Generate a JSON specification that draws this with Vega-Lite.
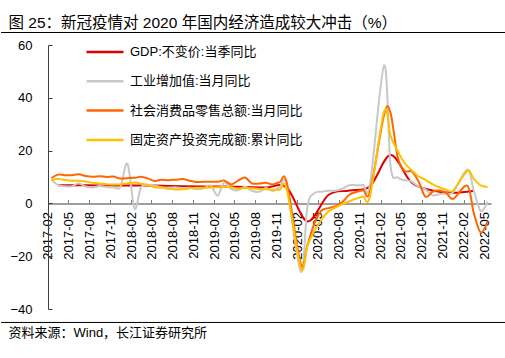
{
"$schema":"https://vega.github.io/schema/vega-lite/v6.json",
"padding":{"left":0,"top":15,"right":0,"bottom":0},
"title":{"text":"图 25：新冠疫情对 2020 年国内经济造成较大冲击（%）","anchor":"start","dx":8,"fontSize":15.5,"fontWeight":"normal","font":"Liberation Sans, Noto Sans CJK SC","color":"#000","offset":1},
"spacing":0,
"bounds":"flush",
"config":{"view":{"stroke":null}},
"vconcat":[
{"width":505,"height":289,
"title":{"text":"资料来源：Wind，长江证券研究所","orient":"bottom","anchor":"start","dx":8,"fontSize":13,"fontWeight":"normal","font":"Liberation Sans, Noto Sans CJK SC","color":"#000","offset":4},
"layer":[
{"data":{"format":{"parse":{"d":"utc:'%Y-%m'"}},"values":[
{"s":"GDP:不变价:当季同比","d":"2017-03","v":6.9},{"s":"GDP:不变价:当季同比","d":"2017-06","v":6.9},{"s":"GDP:不变价:当季同比","d":"2017-09","v":6.8},{"s":"GDP:不变价:当季同比","d":"2017-12","v":6.8},
{"s":"GDP:不变价:当季同比","d":"2018-03","v":6.8},{"s":"GDP:不变价:当季同比","d":"2018-06","v":6.7},{"s":"GDP:不变价:当季同比","d":"2018-09","v":6.5},{"s":"GDP:不变价:当季同比","d":"2018-12","v":6.4},
{"s":"GDP:不变价:当季同比","d":"2019-03","v":6.4},{"s":"GDP:不变价:当季同比","d":"2019-06","v":6.2},{"s":"GDP:不变价:当季同比","d":"2019-09","v":6.0},{"s":"GDP:不变价:当季同比","d":"2019-12","v":6.0},
{"s":"GDP:不变价:当季同比","d":"2020-03","v":-6.8},{"s":"GDP:不变价:当季同比","d":"2020-06","v":3.2},{"s":"GDP:不变价:当季同比","d":"2020-09","v":4.9},{"s":"GDP:不变价:当季同比","d":"2020-12","v":6.5},
{"s":"GDP:不变价:当季同比","d":"2021-03","v":18.3},{"s":"GDP:不变价:当季同比","d":"2021-06","v":7.9},{"s":"GDP:不变价:当季同比","d":"2021-09","v":4.9},{"s":"GDP:不变价:当季同比","d":"2021-12","v":4.0},
{"s":"GDP:不变价:当季同比","d":"2022-03","v":4.8},
{"s":"工业增加值:当月同比","d":"2017-02","v":9.0},{"s":"工业增加值:当月同比","d":"2017-03","v":7.0},{"s":"工业增加值:当月同比","d":"2017-04","v":6.5},{"s":"工业增加值:当月同比","d":"2017-05","v":6.5},{"s":"工业增加值:当月同比","d":"2017-06","v":7.6},{"s":"工业增加值:当月同比","d":"2017-07","v":6.4},{"s":"工业增加值:当月同比","d":"2017-08","v":6.0},{"s":"工业增加值:当月同比","d":"2017-09","v":6.6},{"s":"工业增加值:当月同比","d":"2017-10","v":6.2},{"s":"工业增加值:当月同比","d":"2017-11","v":6.1},{"s":"工业增加值:当月同比","d":"2017-12","v":6.2},
{"s":"工业增加值:当月同比","d":"2018-01","v":15.0},{"s":"工业增加值:当月同比","d":"2018-02","v":-2.0},{"s":"工业增加值:当月同比","d":"2018-03","v":6.0},{"s":"工业增加值:当月同比","d":"2018-04","v":7.0},{"s":"工业增加值:当月同比","d":"2018-05","v":6.8},{"s":"工业增加值:当月同比","d":"2018-06","v":6.0},{"s":"工业增加值:当月同比","d":"2018-07","v":6.0},{"s":"工业增加值:当月同比","d":"2018-08","v":6.1},{"s":"工业增加值:当月同比","d":"2018-09","v":5.8},{"s":"工业增加值:当月同比","d":"2018-10","v":5.9},{"s":"工业增加值:当月同比","d":"2018-11","v":5.4},{"s":"工业增加值:当月同比","d":"2018-12","v":5.7},
{"s":"工业增加值:当月同比","d":"2019-01","v":6.8},{"s":"工业增加值:当月同比","d":"2019-02","v":3.0},{"s":"工业增加值:当月同比","d":"2019-03","v":8.0},{"s":"工业增加值:当月同比","d":"2019-04","v":5.4},{"s":"工业增加值:当月同比","d":"2019-05","v":5.0},{"s":"工业增加值:当月同比","d":"2019-06","v":6.3},{"s":"工业增加值:当月同比","d":"2019-07","v":4.8},{"s":"工业增加值:当月同比","d":"2019-08","v":4.4},{"s":"工业增加值:当月同比","d":"2019-09","v":5.8},{"s":"工业增加值:当月同比","d":"2019-10","v":4.7},{"s":"工业增加值:当月同比","d":"2019-11","v":6.2},{"s":"工业增加值:当月同比","d":"2019-12","v":6.9},
{"s":"工业增加值:当月同比","d":"2020-02","v":-25.9},{"s":"工业增加值:当月同比","d":"2020-03","v":-1.1},{"s":"工业增加值:当月同比","d":"2020-04","v":3.9},{"s":"工业增加值:当月同比","d":"2020-05","v":4.4},{"s":"工业增加值:当月同比","d":"2020-06","v":4.8},{"s":"工业增加值:当月同比","d":"2020-07","v":4.8},{"s":"工业增加值:当月同比","d":"2020-08","v":5.6},{"s":"工业增加值:当月同比","d":"2020-09","v":6.9},{"s":"工业增加值:当月同比","d":"2020-10","v":6.9},{"s":"工业增加值:当月同比","d":"2020-11","v":7.0},{"s":"工业增加值:当月同比","d":"2020-12","v":7.3},
{"s":"工业增加值:当月同比","d":"2021-02","v":52.3},{"s":"工业增加值:当月同比","d":"2021-03","v":14.1},{"s":"工业增加值:当月同比","d":"2021-04","v":9.8},{"s":"工业增加值:当月同比","d":"2021-05","v":8.8},{"s":"工业增加值:当月同比","d":"2021-06","v":8.3},{"s":"工业增加值:当月同比","d":"2021-07","v":6.4},{"s":"工业增加值:当月同比","d":"2021-08","v":5.3},{"s":"工业增加值:当月同比","d":"2021-09","v":3.1},{"s":"工业增加值:当月同比","d":"2021-10","v":3.5},{"s":"工业增加值:当月同比","d":"2021-11","v":3.8},{"s":"工业增加值:当月同比","d":"2021-12","v":4.3},
{"s":"工业增加值:当月同比","d":"2022-02","v":12.8},{"s":"工业增加值:当月同比","d":"2022-03","v":5.0},{"s":"工业增加值:当月同比","d":"2022-04","v":-2.9},{"s":"工业增加值:当月同比","d":"2022-05","v":0.7},
{"s":"社会消费品零售总额:当月同比","d":"2017-02","v":9.5},{"s":"社会消费品零售总额:当月同比","d":"2017-03","v":10.9},{"s":"社会消费品零售总额:当月同比","d":"2017-04","v":10.7},{"s":"社会消费品零售总额:当月同比","d":"2017-05","v":10.7},{"s":"社会消费品零售总额:当月同比","d":"2017-06","v":11.0},{"s":"社会消费品零售总额:当月同比","d":"2017-07","v":10.4},{"s":"社会消费品零售总额:当月同比","d":"2017-08","v":10.1},{"s":"社会消费品零售总额:当月同比","d":"2017-09","v":10.3},{"s":"社会消费品零售总额:当月同比","d":"2017-10","v":10.0},{"s":"社会消费品零售总额:当月同比","d":"2017-11","v":10.2},{"s":"社会消费品零售总额:当月同比","d":"2017-12","v":9.4},
{"s":"社会消费品零售总额:当月同比","d":"2018-02","v":9.7},{"s":"社会消费品零售总额:当月同比","d":"2018-03","v":10.1},{"s":"社会消费品零售总额:当月同比","d":"2018-04","v":9.4},{"s":"社会消费品零售总额:当月同比","d":"2018-05","v":8.5},{"s":"社会消费品零售总额:当月同比","d":"2018-06","v":9.0},{"s":"社会消费品零售总额:当月同比","d":"2018-07","v":8.8},{"s":"社会消费品零售总额:当月同比","d":"2018-08","v":9.0},{"s":"社会消费品零售总额:当月同比","d":"2018-09","v":9.2},{"s":"社会消费品零售总额:当月同比","d":"2018-10","v":8.6},{"s":"社会消费品零售总额:当月同比","d":"2018-11","v":8.1},{"s":"社会消费品零售总额:当月同比","d":"2018-12","v":8.2},
{"s":"社会消费品零售总额:当月同比","d":"2019-02","v":8.2},{"s":"社会消费品零售总额:当月同比","d":"2019-03","v":8.7},{"s":"社会消费品零售总额:当月同比","d":"2019-04","v":7.2},{"s":"社会消费品零售总额:当月同比","d":"2019-05","v":8.6},{"s":"社会消费品零售总额:当月同比","d":"2019-06","v":9.8},{"s":"社会消费品零售总额:当月同比","d":"2019-07","v":7.6},{"s":"社会消费品零售总额:当月同比","d":"2019-08","v":7.5},{"s":"社会消费品零售总额:当月同比","d":"2019-09","v":7.8},{"s":"社会消费品零售总额:当月同比","d":"2019-10","v":7.2},{"s":"社会消费品零售总额:当月同比","d":"2019-11","v":8.0},{"s":"社会消费品零售总额:当月同比","d":"2019-12","v":8.0},
{"s":"社会消费品零售总额:当月同比","d":"2020-02","v":-23.0},{"s":"社会消费品零售总额:当月同比","d":"2020-03","v":-15.8},{"s":"社会消费品零售总额:当月同比","d":"2020-04","v":-7.5},{"s":"社会消费品零售总额:当月同比","d":"2020-05","v":-2.8},{"s":"社会消费品零售总额:当月同比","d":"2020-06","v":-1.8},{"s":"社会消费品零售总额:当月同比","d":"2020-07","v":-1.1},{"s":"社会消费品零售总额:当月同比","d":"2020-08","v":0.5},{"s":"社会消费品零售总额:当月同比","d":"2020-09","v":3.3},{"s":"社会消费品零售总额:当月同比","d":"2020-10","v":4.3},{"s":"社会消费品零售总额:当月同比","d":"2020-11","v":5.0},{"s":"社会消费品零售总额:当月同比","d":"2020-12","v":4.6},
{"s":"社会消费品零售总额:当月同比","d":"2021-02","v":33.8},{"s":"社会消费品零售总额:当月同比","d":"2021-03","v":34.2},{"s":"社会消费品零售总额:当月同比","d":"2021-04","v":17.7},{"s":"社会消费品零售总额:当月同比","d":"2021-05","v":12.4},{"s":"社会消费品零售总额:当月同比","d":"2021-06","v":12.1},{"s":"社会消费品零售总额:当月同比","d":"2021-07","v":8.5},{"s":"社会消费品零售总额:当月同比","d":"2021-08","v":2.5},{"s":"社会消费品零售总额:当月同比","d":"2021-09","v":4.4},{"s":"社会消费品零售总额:当月同比","d":"2021-10","v":4.9},{"s":"社会消费品零售总额:当月同比","d":"2021-11","v":3.9},{"s":"社会消费品零售总额:当月同比","d":"2021-12","v":1.7},
{"s":"社会消费品零售总额:当月同比","d":"2022-02","v":6.7},{"s":"社会消费品零售总额:当月同比","d":"2022-03","v":-3.5},{"s":"社会消费品零售总额:当月同比","d":"2022-04","v":-11.1},{"s":"社会消费品零售总额:当月同比","d":"2022-05","v":-6.7},
{"s":"固定资产投资完成额:累计同比","d":"2017-02","v":8.9},{"s":"固定资产投资完成额:累计同比","d":"2017-03","v":9.2},{"s":"固定资产投资完成额:累计同比","d":"2017-04","v":8.9},{"s":"固定资产投资完成额:累计同比","d":"2017-05","v":8.6},{"s":"固定资产投资完成额:累计同比","d":"2017-06","v":8.6},{"s":"固定资产投资完成额:累计同比","d":"2017-07","v":8.3},{"s":"固定资产投资完成额:累计同比","d":"2017-08","v":7.8},{"s":"固定资产投资完成额:累计同比","d":"2017-09","v":7.5},{"s":"固定资产投资完成额:累计同比","d":"2017-10","v":7.3},{"s":"固定资产投资完成额:累计同比","d":"2017-11","v":7.2},{"s":"固定资产投资完成额:累计同比","d":"2017-12","v":7.2},
{"s":"固定资产投资完成额:累计同比","d":"2018-02","v":7.9},{"s":"固定资产投资完成额:累计同比","d":"2018-03","v":7.5},{"s":"固定资产投资完成额:累计同比","d":"2018-04","v":7.0},{"s":"固定资产投资完成额:累计同比","d":"2018-05","v":6.1},{"s":"固定资产投资完成额:累计同比","d":"2018-06","v":6.0},{"s":"固定资产投资完成额:累计同比","d":"2018-07","v":5.5},{"s":"固定资产投资完成额:累计同比","d":"2018-08","v":5.3},{"s":"固定资产投资完成额:累计同比","d":"2018-09","v":5.4},{"s":"固定资产投资完成额:累计同比","d":"2018-10","v":5.7},{"s":"固定资产投资完成额:累计同比","d":"2018-11","v":5.9},{"s":"固定资产投资完成额:累计同比","d":"2018-12","v":5.9},
{"s":"固定资产投资完成额:累计同比","d":"2019-02","v":6.1},{"s":"固定资产投资完成额:累计同比","d":"2019-03","v":6.3},{"s":"固定资产投资完成额:累计同比","d":"2019-04","v":6.1},{"s":"固定资产投资完成额:累计同比","d":"2019-05","v":5.6},{"s":"固定资产投资完成额:累计同比","d":"2019-06","v":5.8},{"s":"固定资产投资完成额:累计同比","d":"2019-07","v":5.7},{"s":"固定资产投资完成额:累计同比","d":"2019-08","v":5.5},{"s":"固定资产投资完成额:累计同比","d":"2019-09","v":5.4},{"s":"固定资产投资完成额:累计同比","d":"2019-10","v":5.2},{"s":"固定资产投资完成额:累计同比","d":"2019-11","v":5.2},{"s":"固定资产投资完成额:累计同比","d":"2019-12","v":5.4},
{"s":"固定资产投资完成额:累计同比","d":"2020-02","v":-24.5},{"s":"固定资产投资完成额:累计同比","d":"2020-03","v":-16.1},{"s":"固定资产投资完成额:累计同比","d":"2020-04","v":-10.3},{"s":"固定资产投资完成额:累计同比","d":"2020-05","v":-6.3},{"s":"固定资产投资完成额:累计同比","d":"2020-06","v":-3.1},{"s":"固定资产投资完成额:累计同比","d":"2020-07","v":-1.6},{"s":"固定资产投资完成额:累计同比","d":"2020-08","v":-0.3},{"s":"固定资产投资完成额:累计同比","d":"2020-09","v":0.8},{"s":"固定资产投资完成额:累计同比","d":"2020-10","v":1.8},{"s":"固定资产投资完成额:累计同比","d":"2020-11","v":2.6},{"s":"固定资产投资完成额:累计同比","d":"2020-12","v":2.9},
{"s":"固定资产投资完成额:累计同比","d":"2021-02","v":35.0},{"s":"固定资产投资完成额:累计同比","d":"2021-03","v":25.6},{"s":"固定资产投资完成额:累计同比","d":"2021-04","v":19.9},{"s":"固定资产投资完成额:累计同比","d":"2021-05","v":15.4},{"s":"固定资产投资完成额:累计同比","d":"2021-06","v":12.6},{"s":"固定资产投资完成额:累计同比","d":"2021-07","v":10.3},{"s":"固定资产投资完成额:累计同比","d":"2021-08","v":8.9},{"s":"固定资产投资完成额:累计同比","d":"2021-09","v":7.3},{"s":"固定资产投资完成额:累计同比","d":"2021-10","v":6.1},{"s":"固定资产投资完成额:累计同比","d":"2021-11","v":5.2},{"s":"固定资产投资完成额:累计同比","d":"2021-12","v":4.9},
{"s":"固定资产投资完成额:累计同比","d":"2022-02","v":12.2},{"s":"固定资产投资完成额:累计同比","d":"2022-03","v":9.3},{"s":"固定资产投资完成额:累计同比","d":"2022-04","v":6.8},{"s":"固定资产投资完成额:累计同比","d":"2022-05","v":6.2}
]},
"mark":{"type":"line","interpolate":"cardinal","strokeWidth":2},
"encoding":{
"x":{"field":"d","type":"temporal",
"scale":{"type":"utc","domain":[{"year":2017,"month":1,"date":17,"utc":true},{"year":2022,"month":5,"date":16,"utc":true}],"range":[47,490]},
"axis":{"orient":"bottom","offset":-118.5,"title":null,"grid":false,"labelExpr":"utcFormat(datum.value, '%Y-%m')",
"values":[{"year":2017,"month":2,"date":1,"utc":true},{"year":2017,"month":5,"date":1,"utc":true},{"year":2017,"month":8,"date":1,"utc":true},{"year":2017,"month":11,"date":1,"utc":true},
{"year":2018,"month":2,"date":1,"utc":true},{"year":2018,"month":5,"date":1,"utc":true},{"year":2018,"month":8,"date":1,"utc":true},{"year":2018,"month":11,"date":1,"utc":true},
{"year":2019,"month":2,"date":1,"utc":true},{"year":2019,"month":5,"date":1,"utc":true},{"year":2019,"month":8,"date":1,"utc":true},{"year":2019,"month":11,"date":1,"utc":true},
{"year":2020,"month":2,"date":1,"utc":true},{"year":2020,"month":5,"date":1,"utc":true},{"year":2020,"month":8,"date":1,"utc":true},{"year":2020,"month":11,"date":1,"utc":true},
{"year":2021,"month":2,"date":1,"utc":true},{"year":2021,"month":5,"date":1,"utc":true},{"year":2021,"month":8,"date":1,"utc":true},{"year":2021,"month":11,"date":1,"utc":true},
{"year":2022,"month":2,"date":1,"utc":true},{"year":2022,"month":5,"date":1,"utc":true}],
"domainColor":"#808080","domainWidth":1.5,"tickColor":"#808080","tickSize":-4,"tickOffset":-3.5,
"labelAngle":-90,"labelFont":"Liberation Sans","labelFontSize":13,"labelColor":"#000","labelPadding":12,"labelOverlap":false,"labelFlush":false}},
"y":{"field":"v","type":"quantitative","scale":{"domain":[-40,60],"range":[276,12],"nice":false,"zero":false},
"axis":{"orient":"left","offset":-47,"title":null,"grid":false,"values":[-40,-20,0,20,40,60],"domainColor":"#404040","tickColor":"#404040","tickSize":-4,"labelPadding":20,"labelFont":"Liberation Sans","labelFontSize":13,"labelColor":"#000"}},
"color":{"field":"s","type":"nominal",
"scale":{"domain":["GDP:不变价:当季同比","工业增加值:当月同比","社会消费品零售总额:当月同比","固定资产投资完成额:累计同比"],"range":["#E00000","#C8C8C8","#FF6600","#FFC000"]},
"legend":{"orient":"none","legendX":84,"legendY":-1,"direction":"vertical","title":null,"symbolType":"stroke","symbolSize":1369,"symbolStrokeWidth":2.5,"labelFont":"Liberation Sans, Noto Sans CJK SC","labelFontSize":13,"labelColor":"#000","labelLimit":400,"rowPadding":2.3,"labelOffset":5}}
}},
{"data":{"values":[{"k":1}]},"mark":{"type":"rule","color":"#000","strokeWidth":1},"encoding":{"y":{"datum":64.73,"type":"quantitative"}}},
{"data":{"values":[{"k":1}]},"mark":{"type":"rule","color":"#000","strokeWidth":1},"encoding":{"y":{"datum":-45.1,"type":"quantitative"}}}
]}
]
}
